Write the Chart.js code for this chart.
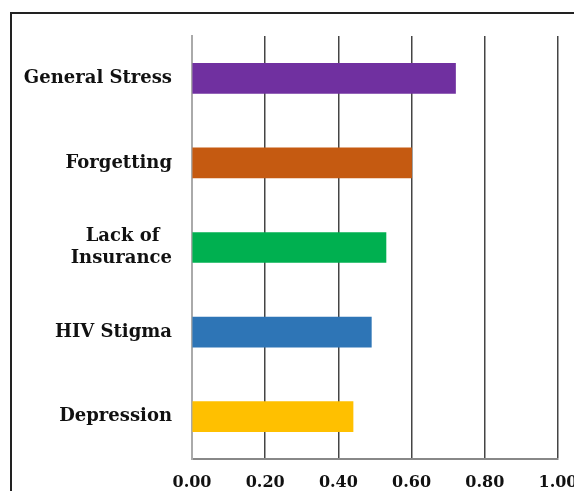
<!DOCTYPE html>
<html><head><meta charset="utf-8">
<script src="https://cdn.jsdelivr.net/npm/chart.js@4/dist/chart.umd.min.js"></script>
<style>
html,body{margin:0;padding:0;background:#fff;overflow:hidden;}
#frame{position:absolute;left:10px;top:12px;width:600px;height:500px;border-left:2px solid #222;border-top:2px solid #222;}
#wrap{position:absolute;left:0;top:0;width:574px;height:491px;}
</style></head>
<body>
<div id="frame"></div>
<div id="wrap"><canvas id="c" width="574" height="491"></canvas></div>
<script>
const categories = ['General Stress', 'Forgetting', ['Lack of\u00a0\u00a0', 'Insurance'], 'HIV Stigma', 'Depression'];
const values = [0.72, 0.60, 0.53, 0.49, 0.44];
const barColors = ['#7030A0', '#C55A11', '#00B050', '#2E75B6', '#FFC000'];
const xTicks = [0, 0.2, 0.4, 0.6, 0.8, 1.0];

const labelFont = {family: 'DejaVu Serif', weight: 'bold', size: 18, lineHeight: 1.25};

new Chart(document.getElementById('c'), {
  type: 'bar',
  data: {
    labels: categories,
    datasets: [{data: values, backgroundColor: barColors, barThickness: 30}]
  },
  options: {
    indexAxis: 'y',
    responsive: false,
    animation: false,
    layout: {padding: {top: 36, right: 16, left: 0, bottom: 0}},
    plugins: {legend: {display: false}, tooltip: {enabled: false}},
    scales: {
      x: {
        min: 0, max: 1,
        afterBuildTicks: s => { s.ticks = xTicks.map(v => ({value: v})); },
        afterFit: s => { s.height = 32; s.paddingRight = 0; s.paddingLeft = 0; },
        ticks: {callback: v => Number(v).toFixed(2), color: '#111', font: {family: 'DejaVu Serif', weight: 'bold', size: 16}, padding: 14, maxRotation: 0},
        grid: {color: ctx => ctx.index === 0 ? '#aaa' : '#444', lineWidth: 1.5, drawTicks: false},
        border: {color: '#888', width: 2}
      },
      y: {
        afterFit: s => { s.width = 192; s.paddingTop = 0; s.paddingBottom = 0; },
        ticks: {color: '#111', font: labelFont, padding: 12},
        grid: {display: false},
        border: {color: '#aaa', width: 2}
      }
    }
  }
});
</script>
</body></html>
